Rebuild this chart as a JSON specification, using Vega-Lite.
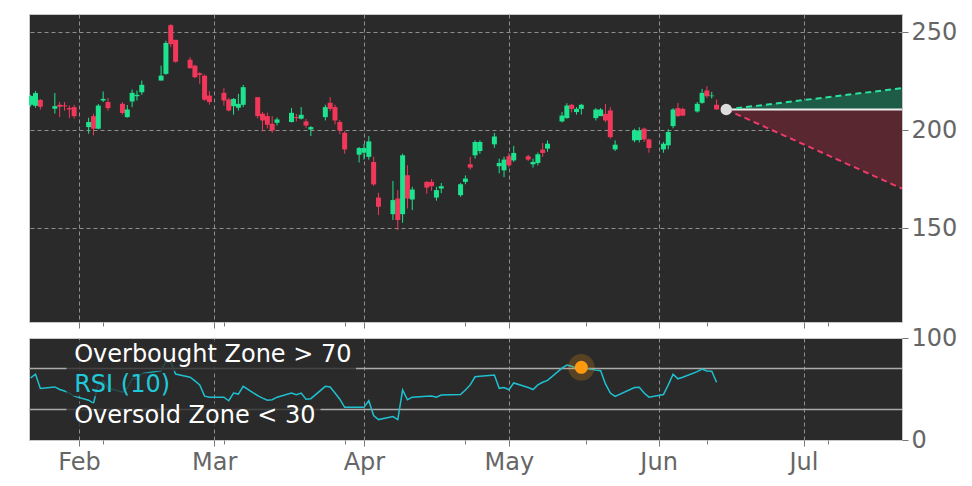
{
  "$schema": "https://vega.github.io/schema/vega-lite/v6.json",
  "background": "white",
  "padding": {"left": 27, "top": 13, "right": 5, "bottom": 5},
  "spacing": 16,
  "bounds": "flush",
  "datasets": {
    "candles": [
      {"date":"2025-01-22","open":213,"high":218,"low":212,"close":217.5,"rsi":61},
      {"date":"2025-01-23","open":212.5,"high":220,"low":211.5,"close":219,"rsi":64.5},
      {"date":"2025-01-24","open":215.5,"high":216,"low":210.5,"close":212,"rsi":50.5},
      {"date":"2025-01-27","open":211,"high":219,"low":208.5,"close":212.3,"rsi":52},
      {"date":"2025-01-28","open":213,"high":214.5,"low":206.7,"close":212,"rsi":49.5},
      {"date":"2025-01-29","open":212.7,"high":214.4,"low":210,"close":212.2,"rsi":48},
      {"date":"2025-01-30","open":211.3,"high":212.6,"low":206.2,"close":210.6,"rsi":46},
      {"date":"2025-01-31","open":211.8,"high":213,"low":206,"close":207.2,"rsi":43},
      {"date":"2025-02-03","open":201.6,"high":206.4,"low":198.2,"close":204.2,"rsi":39},
      {"date":"2025-02-04","open":207.2,"high":208.4,"low":197.4,"close":200.8,"rsi":36},
      {"date":"2025-02-05","open":200.8,"high":213.4,"low":200.4,"close":212.6,"rsi":55},
      {"date":"2025-02-06","open":215.2,"high":219.8,"low":214.4,"close":216,"rsi":58},
      {"date":"2025-02-07","open":214.4,"high":216.5,"low":210,"close":211.3,"rsi":51},
      {"date":"2025-02-10","open":213.5,"high":214.4,"low":208,"close":208.8,"rsi":47},
      {"date":"2025-02-11","open":206.7,"high":212.9,"low":206.4,"close":210.6,"rsi":51},
      {"date":"2025-02-12","open":214.7,"high":220.8,"low":211.8,"close":219.1,"rsi":60},
      {"date":"2025-02-13","open":217.4,"high":220.3,"low":215.2,"close":218.1,"rsi":60},
      {"date":"2025-02-14","open":219.4,"high":225.4,"low":218.1,"close":223.2,"rsi":65},
      {"date":"2025-02-18","open":225.4,"high":233,"low":225.4,"close":227.9,"rsi":68},
      {"date":"2025-02-19","open":228.8,"high":245.7,"low":228.3,"close":244.6,"rsi":77},
      {"date":"2025-02-20","open":253.7,"high":254.2,"low":242.4,"close":244,"rsi":76.5},
      {"date":"2025-02-21","open":246.2,"high":246.2,"low":234.5,"close":235,"rsi":64.7},
      {"date":"2025-02-24","open":236,"high":237.3,"low":231.5,"close":231.7,"rsi":61.5},
      {"date":"2025-02-25","open":233,"high":233.5,"low":226.6,"close":227.1,"rsi":58},
      {"date":"2025-02-26","open":229.1,"high":229.6,"low":223.7,"close":228.3,"rsi":54},
      {"date":"2025-02-27","open":227.9,"high":228.5,"low":215,"close":215.6,"rsi":43},
      {"date":"2025-02-28","open":217.7,"high":220,"low":213.1,"close":214.4,"rsi":42},
      {"date":"2025-03-03","open":219.1,"high":221.5,"low":212.6,"close":215.2,"rsi":42},
      {"date":"2025-03-04","open":215.7,"high":216.5,"low":209.6,"close":210.1,"rsi":38.5},
      {"date":"2025-03-05","open":212.3,"high":216.4,"low":207.9,"close":216,"rsi":46},
      {"date":"2025-03-06","open":211.5,"high":218.6,"low":210.1,"close":213.5,"rsi":45},
      {"date":"2025-03-07","open":213,"high":223.2,"low":211.8,"close":222,"rsi":52.6},
      {"date":"2025-03-10","open":216.9,"high":217,"low":206,"close":207.2,"rsi":43.5},
      {"date":"2025-03-11","open":208.4,"high":209.3,"low":199.4,"close":205,"rsi":41},
      {"date":"2025-03-12","open":207.2,"high":209,"low":201,"close":202.8,"rsi":39},
      {"date":"2025-03-13","open":203.3,"high":207.2,"low":198.7,"close":199.9,"rsi":39.5},
      {"date":"2025-03-14","open":203.8,"high":206.5,"low":202.4,"close":205.5,"rsi":42},
      {"date":"2025-03-17","open":204.2,"high":211.3,"low":204,"close":208.9,"rsi":46},
      {"date":"2025-03-18","open":206.7,"high":208.3,"low":204.5,"close":206.2,"rsi":44.5},
      {"date":"2025-03-19","open":205.9,"high":211.8,"low":205.5,"close":207.9,"rsi":46},
      {"date":"2025-03-20","open":204.5,"high":205.8,"low":201,"close":202.4,"rsi":40},
      {"date":"2025-03-21","open":200.4,"high":202.1,"low":197,"close":201.6,"rsi":40.5},
      {"date":"2025-03-24","open":206.7,"high":213,"low":205,"close":211.8,"rsi":52.6},
      {"date":"2025-03-25","open":214,"high":216.9,"low":209.8,"close":210.9,"rsi":52},
      {"date":"2025-03-26","open":211.8,"high":213,"low":203,"close":205,"rsi":46},
      {"date":"2025-03-27","open":204.2,"high":205.3,"low":198,"close":199.9,"rsi":40},
      {"date":"2025-03-28","open":198.7,"high":199.6,"low":188,"close":190.2,"rsi":32},
      {"date":"2025-03-31","open":187.5,"high":191.4,"low":183.5,"close":190.9,"rsi":32},
      {"date":"2025-04-01","open":188.5,"high":193,"low":185,"close":190.9,"rsi":32},
      {"date":"2025-04-02","open":186.4,"high":197,"low":185,"close":194.3,"rsi":38.5},
      {"date":"2025-04-03","open":183.8,"high":186.5,"low":171.6,"close":172.3,"rsi":24},
      {"date":"2025-04-04","open":165.6,"high":168,"low":156.6,"close":160.9,"rsi":20},
      {"date":"2025-04-07","open":157.1,"high":174.1,"low":154.1,"close":164.3,"rsi":23},
      {"date":"2025-04-08","open":165.1,"high":169.4,"low":149,"close":154.1,"rsi":20},
      {"date":"2025-04-09","open":157.1,"high":188,"low":152.7,"close":187.2,"rsi":49},
      {"date":"2025-04-10","open":177,"high":182.1,"low":160,"close":165.1,"rsi":39.5},
      {"date":"2025-04-11","open":164.6,"high":171.1,"low":159.2,"close":169.7,"rsi":42},
      {"date":"2025-04-14","open":173.6,"high":174,"low":167.6,"close":170.7,"rsi":43},
      {"date":"2025-04-15","open":173.6,"high":175,"low":169,"close":171.4,"rsi":43.2},
      {"date":"2025-04-16","open":165.6,"high":171.1,"low":164,"close":169.4,"rsi":42},
      {"date":"2025-04-17","open":170.2,"high":173,"low":167.8,"close":171.4,"rsi":44},
      {"date":"2025-04-21","open":166.8,"high":173,"low":166,"close":172.4,"rsi":44.5},
      {"date":"2025-04-22","open":173.6,"high":176.9,"low":172.4,"close":175.3,"rsi":49},
      {"date":"2025-04-23","open":182.6,"high":186.4,"low":179.9,"close":180.9,"rsi":54},
      {"date":"2025-04-24","open":187.2,"high":194.8,"low":185.5,"close":194,"rsi":62},
      {"date":"2025-04-25","open":189.4,"high":194.8,"low":188,"close":194,"rsi":62.5},
      {"date":"2025-04-28","open":192.8,"high":198.6,"low":191,"close":196.8,"rsi":63.7},
      {"date":"2025-04-29","open":181.6,"high":185.5,"low":178,"close":183.3,"rsi":50.7},
      {"date":"2025-04-30","open":179.5,"high":186.5,"low":176,"close":185,"rsi":51.5},
      {"date":"2025-05-01","open":186.7,"high":188.4,"low":181,"close":182.1,"rsi":49.3},
      {"date":"2025-05-02","open":184.6,"high":192,"low":183.8,"close":188.4,"rsi":55.9},
      {"date":"2025-05-05","open":186.7,"high":187.5,"low":184.3,"close":185,"rsi":51.5},
      {"date":"2025-05-06","open":182.6,"high":185.5,"low":180.9,"close":183.8,"rsi":49.5},
      {"date":"2025-05-07","open":183.3,"high":188.6,"low":182,"close":187.7,"rsi":54},
      {"date":"2025-05-08","open":190.1,"high":193.5,"low":186.4,"close":188.4,"rsi":56.6},
      {"date":"2025-05-09","open":190.6,"high":194.8,"low":189,"close":193.1,"rsi":58.5},
      {"date":"2025-05-12","open":204.5,"high":209.3,"low":204,"close":207.5,"rsi":70.5},
      {"date":"2025-05-13","open":206.2,"high":213.8,"low":205.9,"close":212.6,"rsi":73.5},
      {"date":"2025-05-14","open":213,"high":213.5,"low":209.1,"close":210.9,"rsi":72.3},
      {"date":"2025-05-15","open":209.3,"high":211.8,"low":208,"close":210.9,"rsi":70.5},
      {"date":"2025-05-16","open":210.9,"high":213.5,"low":208,"close":213,"rsi":71.3},
      {"date":"2025-05-19","open":206.2,"high":211.3,"low":205,"close":210.6,"rsi":68.5},
      {"date":"2025-05-20","open":207.2,"high":211.3,"low":207.2,"close":210.6,"rsi":68},
      {"date":"2025-05-21","open":208.4,"high":213.5,"low":204,"close":205,"rsi":55},
      {"date":"2025-05-22","open":210.1,"high":211.8,"low":195.7,"close":196.5,"rsi":46},
      {"date":"2025-05-23","open":190.2,"high":194.8,"low":189.4,"close":192.6,"rsi":42.8},
      {"date":"2025-05-27","open":194.8,"high":200.8,"low":193.8,"close":199.9,"rsi":51.5},
      {"date":"2025-05-28","open":195,"high":201.5,"low":193.8,"close":199.9,"rsi":51.7},
      {"date":"2025-05-29","open":200.8,"high":201.4,"low":194,"close":195.3,"rsi":46},
      {"date":"2025-05-30","open":195.3,"high":195.7,"low":188.5,"close":190.9,"rsi":42},
      {"date":"2025-06-02","open":190.2,"high":194,"low":188.5,"close":193.1,"rsi":44.5},
      {"date":"2025-06-03","open":192.3,"high":200.5,"low":190.2,"close":199.1,"rsi":54},
      {"date":"2025-06-04","open":202.1,"high":211.3,"low":201,"close":210.6,"rsi":64.5},
      {"date":"2025-06-05","open":211.3,"high":214,"low":206.7,"close":207.2,"rsi":60},
      {"date":"2025-06-06","open":210.9,"high":211.5,"low":207.2,"close":207.5,"rsi":61.5},
      {"date":"2025-06-09","open":209.6,"high":214.4,"low":209,"close":213.5,"rsi":67},
      {"date":"2025-06-10","open":214,"high":221.1,"low":213.5,"close":219.1,"rsi":69.5},
      {"date":"2025-06-11","open":220.3,"high":222.5,"low":216.4,"close":217.4,"rsi":67.6},
      {"date":"2025-06-12","open":217.4,"high":219.6,"low":216.2,"close":217.7,"rsi":67.5},
      {"date":"2025-06-13","open":213,"high":215.7,"low":210.6,"close":210.6,"rsi":56.6}
    ],
    "forecast": [
      {"date":"2025-06-15","mid":210.6,"up":210.6,"low":210.6},
      {"date":"2025-07-21T09:00:00Z","mid":210.6,"up":221.5,"low":170.2}
    ],
    "dot": [{"date":"2025-06-15","value":210.6}],
    "signal": [{"date":"2025-05-16","rsi":71.3}],
    "levels": [{"level":70},{"level":30}],
    "boxes": [
      {"start":"2025-01-29T10:00:00Z","end":"2025-03-30T08:00:00Z","lo":67.5,"hi":98},
      {"start":"2025-01-29T10:00:00Z","end":"2025-02-20T00:00:00Z","lo":43,"hi":66},
      {"start":"2025-01-29T10:00:00Z","end":"2025-03-23T00:00:00Z","lo":13,"hi":36}
    ],
    "labels": [
      {"date":"2025-01-31","rsi":83.3,"label":"Overbought Zone > 70"},
      {"date":"2025-01-31","rsi":54,"label":"RSI (10)"},
      {"date":"2025-01-31","rsi":23.5,"label":"Oversold Zone < 30"}
    ]
  },
  "vconcat": [
    {
      "width": 873,
      "height": 308,
      "layer": [
        {
          "data": {"name": "candles"},
          "mark": {"type": "rule", "strokeWidth": 1, "clip": true},
          "encoding": {
            "x": {
              "field": "date", "type": "temporal", "title": null,
              "scale": {"type": "utc", "domain": [1737473760000, 1753089696000], "padding": 0},
              "axis": {
                "orient": "bottom", "labels": false, "domain": false,
                "values": [1738368000000, 1738800000000, 1740787200000, 1740960000000, 1743120000000, 1743465600000, 1745280000000, 1746057600000, 1747440000000, 1748736000000, 1749600000000, 1751328000000, 1751760000000],
                "tickSize": {"condition": {"test": "utcdate(datum.value) === 1", "value": 6}, "value": 4},
                "tickColor": "#777777",
                "grid": true, "gridDash": [4, 3], "gridColor": "#9a9a9a",
                "gridOpacity": {"condition": {"test": "utcdate(datum.value) === 1", "value": 0.9}, "value": 0}
              }
            },
            "y": {
              "field": "low", "type": "quantitative", "title": null,
              "scale": {"domain": [102, 259.4], "nice": false, "zero": false, "padding": 0},
              "axis": {
                "orient": "right", "values": [150, 200, 250], "domain": false,
                "tickSize": 6, "tickColor": "#777777", "labelPadding": 3,
                "grid": true, "gridDash": [4, 3], "gridColor": "#9a9a9a", "gridOpacity": 0.9
              }
            },
            "y2": {"field": "high"},
            "color": {"condition": {"test": "datum.close >= datum.open", "value": "#1de38f"}, "value": "#f2385a"}
          }
        },
        {
          "data": {"name": "candles"},
          "mark": {"type": "bar", "size": 5, "clip": true},
          "encoding": {
            "x": {"field": "date", "type": "temporal"},
            "y": {"field": "open", "type": "quantitative"},
            "y2": {"field": "close"},
            "color": {"condition": {"test": "datum.close >= datum.open", "value": "#1de38f"}, "value": "#f2385a"}
          }
        },
        {
          "data": {"name": "forecast"},
          "mark": {"type": "area", "color": "#1f5c47", "clip": true},
          "encoding": {
            "x": {"field": "date", "type": "temporal"},
            "y": {"field": "up", "type": "quantitative"},
            "y2": {"field": "mid"}
          }
        },
        {
          "data": {"name": "forecast"},
          "mark": {"type": "area", "color": "#58272f", "clip": true},
          "encoding": {
            "x": {"field": "date", "type": "temporal"},
            "y": {"field": "mid", "type": "quantitative"},
            "y2": {"field": "low"}
          }
        },
        {
          "data": {"name": "forecast"},
          "mark": {"type": "line", "color": "#eeeeee", "strokeWidth": 2, "clip": true},
          "encoding": {
            "x": {"field": "date", "type": "temporal"},
            "y": {"field": "mid", "type": "quantitative"}
          }
        },
        {
          "data": {"name": "forecast"},
          "mark": {"type": "line", "color": "#2be39f", "strokeWidth": 2, "strokeDash": [6, 4], "clip": true},
          "encoding": {
            "x": {"field": "date", "type": "temporal"},
            "y": {"field": "up", "type": "quantitative"}
          }
        },
        {
          "data": {"name": "forecast"},
          "mark": {"type": "line", "color": "#ee3a6a", "strokeWidth": 2, "strokeDash": [6, 4], "clip": true},
          "encoding": {
            "x": {"field": "date", "type": "temporal"},
            "y": {"field": "low", "type": "quantitative"}
          }
        },
        {
          "data": {"name": "dot"},
          "mark": {"type": "point", "filled": true, "color": "#dddddd", "opacity": 1, "size": 130},
          "encoding": {
            "x": {"field": "date", "type": "temporal"},
            "y": {"field": "value", "type": "quantitative"}
          }
        }
      ]
    },
    {
      "width": 873,
      "height": 102,
      "layer": [
        {
          "data": {"name": "levels"},
          "mark": {"type": "rule", "color": "#aaaaaa", "strokeWidth": 1.5},
          "encoding": {
            "y": {
              "field": "level", "type": "quantitative", "title": null,
              "scale": {"domain": [0, 100], "nice": false, "padding": 0},
              "axis": {
                "orient": "right", "values": [0, 30, 70, 100], "domain": false,
                "tickSize": 6, "tickColor": "#777777", "labelPadding": 3, "grid": false
              }
            }
          }
        },
        {
          "data": {"name": "candles"},
          "mark": {"type": "line", "color": "#1fc0d0", "strokeWidth": 1.5, "clip": true},
          "encoding": {
            "x": {
              "field": "date", "type": "temporal", "title": null,
              "scale": {"type": "utc", "domain": [1737473760000, 1753089696000], "padding": 0},
              "axis": {
                "orient": "bottom", "domain": false, "labelOverlap": false,
                "values": [1738368000000, 1738800000000, 1740787200000, 1740960000000, 1743120000000, 1743465600000, 1745280000000, 1746057600000, 1747440000000, 1748736000000, 1749600000000, 1751328000000, 1751760000000],
                "labelExpr": "utcdate(datum.value) === 1 ? utcFormat(datum.value, '%b') : ''",
                "labelPadding": 4,
                "tickSize": {"condition": {"test": "utcdate(datum.value) === 1", "value": 6}, "value": 4},
                "tickColor": "#777777",
                "grid": true, "gridDash": [4, 3], "gridColor": "#9a9a9a",
                "gridOpacity": {"condition": {"test": "utcdate(datum.value) === 1", "value": 0.9}, "value": 0}
              }
            },
            "y": {"field": "rsi", "type": "quantitative"}
          }
        },
        {
          "data": {"name": "signal"},
          "mark": {"type": "point", "filled": true, "color": "#ff9a10", "opacity": 0.22, "size": 700},
          "encoding": {
            "x": {"field": "date", "type": "temporal"},
            "y": {"field": "rsi", "type": "quantitative"}
          }
        },
        {
          "data": {"name": "signal"},
          "mark": {"type": "point", "filled": true, "color": "#ff9a10", "opacity": 1, "size": 170},
          "encoding": {
            "x": {"field": "date", "type": "temporal"},
            "y": {"field": "rsi", "type": "quantitative"}
          }
        },
        {
          "data": {"name": "boxes"},
          "mark": {"type": "rect", "color": "#2a2a2a", "opacity": 0.8},
          "encoding": {
            "x": {"field": "start", "type": "temporal"},
            "x2": {"field": "end"},
            "y": {"field": "lo", "type": "quantitative"},
            "y2": {"field": "hi"}
          }
        },
        {
          "data": {"name": "labels"},
          "mark": {"type": "text", "align": "left", "baseline": "middle", "font": "DejaVu Sans", "fontSize": 24},
          "encoding": {
            "x": {"field": "date", "type": "temporal"},
            "y": {"field": "rsi", "type": "quantitative"},
            "text": {"field": "label"},
            "color": {"condition": {"test": "datum.label === 'RSI (10)'", "value": "#1fc8d8"}, "value": "#ffffff"}
          }
        }
      ]
    }
  ],
  "config": {
    "view": {"stroke": "#c8c8c8", "strokeWidth": 1, "fill": "#2a2a2a"},
    "font": "DejaVu Sans",
    "axis": {"labelFont": "DejaVu Sans", "labelFontSize": 24, "labelColor": "#666666"}
  }
}
